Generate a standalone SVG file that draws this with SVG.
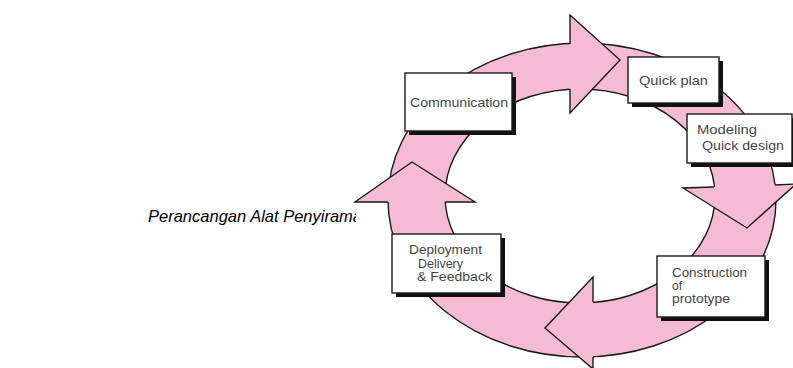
<svg xmlns="http://www.w3.org/2000/svg" width="793" height="368" viewBox="0 0 793 368">
  <style>
    .ring { fill: #F5BBD3; stroke: #1a1a1a; stroke-width: 1.4; fill-rule: evenodd; }
    .head { fill: #F5BBD3; stroke: none; }
    .edge { fill: none; stroke: #1a1a1a; stroke-width: 1.4; stroke-linejoin: miter; }
    .shadow { fill: #111; }
    .box { fill: #fff; stroke: #1a1a1a; stroke-width: 1.4; }
    .lbl { font-family: "Liberation Sans", Arial, sans-serif; font-size: 12px; fill: #444; }
    .side { font-family: "Liberation Sans", Arial, sans-serif; font-size: 16.5px; font-style: italic; fill: #000; }
  </style>
  <defs>
    <clipPath id="cut"><rect x="0" y="0" width="356" height="368"/></clipPath>
  </defs>
  <rect x="0" y="0" width="793" height="368" fill="#fff"/>

  <text class="side" x="148" y="222" clip-path="url(#cut)">Perancangan Alat Penyiraman</text>

  <g id="connectors">
    <path class="ring" d="M388,200 A194,157 0 1,1 776,200 A194,157 0 1,1 388,200 Z M445,196 A135,107 0 1,0 715,196 A135,107 0 1,0 445,196 Z"/>
    <!-- top arrow (right) -->
    <polygon class="head" points="570,15 620,60 570,113"/>
    <polyline class="edge" points="570,44 570,15 620,60 570,113 570,89"/>
    <!-- right arrow (down) -->
    <polygon class="head" points="683,188 747,228 796,184"/>
    <polyline class="edge" points="714,187 683,188 747,228 796,184 775,185"/>
    <!-- bottom arrow (left) -->
    <polygon class="head" points="593,277 545,328 593,369"/>
    <polyline class="edge" points="593,302 593,277 545,328 593,369 593,357"/>
    <!-- left arrow (up) -->
    <polygon class="head" points="355,202 412,162 475,202"/>
    <polyline class="edge" points="388,202 355,202 412,162 475,202 445,202"/>
  </g>

  <g id="communication">
    <rect class="shadow" x="409" y="77" width="107" height="58"/>
    <rect class="box" x="405" y="73" width="107" height="58"/>
    <text class="lbl" x="410" y="107" textLength="98" lengthAdjust="spacingAndGlyphs">Communication</text>
  </g>

  <g id="quick-plan">
    <rect class="shadow" x="632" y="61" width="91" height="46"/>
    <rect class="box" x="628" y="57" width="91" height="46"/>
    <text class="lbl" x="639" y="85" textLength="69" lengthAdjust="spacingAndGlyphs">Quick plan</text>
  </g>

  <g id="modeling">
    <rect class="shadow" x="691" y="118" width="105" height="49"/>
    <rect class="box" x="687" y="114" width="105" height="49"/>
    <text class="lbl" x="697" y="134" textLength="60" lengthAdjust="spacingAndGlyphs">Modeling</text>
    <text class="lbl" x="702" y="150" textLength="82" lengthAdjust="spacingAndGlyphs">Quick design</text>
  </g>

  <g id="construction">
    <rect class="shadow" x="661" y="260" width="108" height="61"/>
    <rect class="box" x="657" y="256" width="108" height="61"/>
    <text class="lbl" x="672" y="277" textLength="75" lengthAdjust="spacingAndGlyphs">Construction</text>
    <text class="lbl" x="672" y="290">of</text>
    <text class="lbl" x="672" y="303" textLength="58" lengthAdjust="spacingAndGlyphs">prototype</text>
  </g>

  <g id="deployment">
    <rect class="shadow" x="396" y="238" width="109" height="59"/>
    <rect class="box" x="392" y="234" width="109" height="59"/>
    <text class="lbl" x="409" y="254" textLength="73" lengthAdjust="spacingAndGlyphs">Deployment</text>
    <text class="lbl" x="418" y="267.5" textLength="45" lengthAdjust="spacingAndGlyphs">Delivery</text>
    <text class="lbl" x="417" y="281" textLength="75" lengthAdjust="spacingAndGlyphs">&amp; Feedback</text>
  </g>
</svg>
